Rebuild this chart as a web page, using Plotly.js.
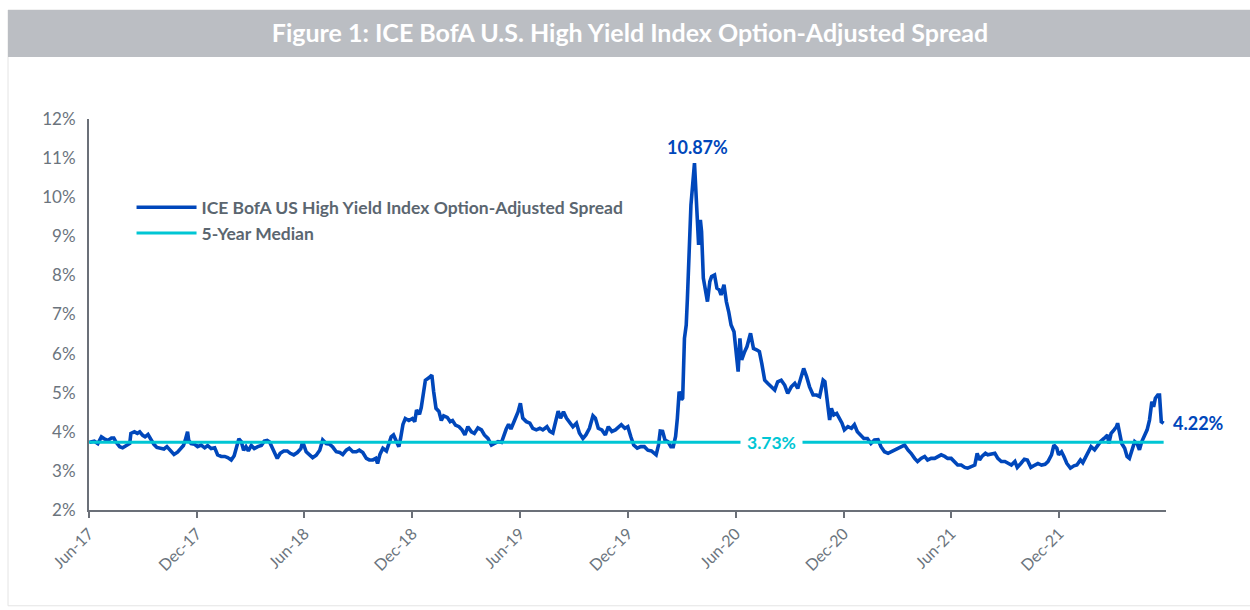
<!DOCTYPE html>
<html>
<head>
<meta charset="utf-8">
<script src="https://cdn.plot.ly/plotly-3.0.1.min.js"></script>
<style>
  html, body { margin: 0; padding: 0; background: #ffffff; }
  #chart { width: 1250px; height: 610px; }
</style>
</head>
<body>
<div id="chart"></div>
<script>
// ---- Data ----
const hyDates = [
  "2017-06-02","2017-06-10","2017-06-16","2017-06-22","2017-06-27","2017-07-03","2017-07-09","2017-07-13","2017-07-17","2017-07-23",
  "2017-07-28","2017-08-03","2017-08-09","2017-08-11","2017-08-17","2017-08-22","2017-08-26","2017-08-31","2017-09-04","2017-09-09",
  "2017-09-13","2017-09-19","2017-09-24","2017-09-30","2017-10-06","2017-10-11","2017-10-17","2017-10-23","2017-10-29","2017-11-03",
  "2017-11-08","2017-11-11","2017-11-15","2017-11-17","2017-11-21","2017-11-27","2017-12-02","2017-12-08","2017-12-14","2017-12-19",
  "2017-12-25","2017-12-31","2018-01-05","2018-01-11","2018-01-17","2018-01-22","2018-01-28","2018-02-02","2018-02-07","2018-02-10",
  "2018-02-14","2018-02-18","2018-02-22","2018-02-26","2018-03-03","2018-03-08","2018-03-14","2018-03-20","2018-03-25","2018-03-30",
  "2018-04-03","2018-04-07","2018-04-11","2018-04-16","2018-04-21","2018-04-27","2018-05-03","2018-05-08","2018-05-14","2018-05-20",
  "2018-05-26","2018-05-29","2018-06-04","2018-06-10","2018-06-15","2018-06-21","2018-06-27","2018-07-02","2018-07-08","2018-07-14",
  "2018-07-19","2018-07-25","2018-07-31","2018-08-05","2018-08-11","2018-08-16","2018-08-22","2018-08-28","2018-09-02","2018-09-08",
  "2018-09-14","2018-09-19","2018-09-25","2018-09-30","2018-10-03","2018-10-07","2018-10-12","2018-10-18","2018-10-22","2018-10-26",
  "2018-10-30","2018-11-04","2018-11-08","2018-11-11","2018-11-15","2018-11-19","2018-11-25","2018-12-01","2018-12-05","2018-12-08",
  "2018-12-13","2018-12-16","2018-12-20","2018-12-23","2018-12-29","2019-01-03","2019-01-06","2019-01-10","2019-01-15","2019-01-19",
  "2019-01-23","2019-01-29","2019-02-03","2019-02-07","2019-02-12","2019-02-18","2019-02-23","2019-02-28","2019-03-05","2019-03-11",
  "2019-03-16","2019-03-22","2019-03-28","2019-04-02","2019-04-08","2019-04-14","2019-04-19","2019-04-25","2019-05-01","2019-05-04",
  "2019-05-09","2019-05-13","2019-05-17","2019-05-23","2019-05-29","2019-06-02","2019-06-06","2019-06-12","2019-06-18","2019-06-23",
  "2019-06-29","2019-07-05","2019-07-10","2019-07-17","2019-07-22","2019-07-27","2019-07-31","2019-08-05","2019-08-09","2019-08-14",
  "2019-08-19","2019-08-24","2019-08-30","2019-09-05","2019-09-10","2019-09-16","2019-09-21","2019-09-27","2019-10-03","2019-10-07",
  "2019-10-12","2019-10-18","2019-10-24","2019-10-29","2019-11-04","2019-11-10","2019-11-15","2019-11-20","2019-11-26","2019-12-01",
  "2019-12-06","2019-12-11","2019-12-17","2019-12-23","2019-12-29","2020-01-04","2020-01-10","2020-01-14","2020-01-18","2020-01-22",
  "2020-01-25","2020-01-29","2020-02-02","2020-02-07","2020-02-12","2020-02-16","2020-02-20","2020-02-23","2020-02-26","2020-03-01",
  "2020-03-03","2020-03-06","2020-03-09","2020-03-11","2020-03-14","2020-03-17","2020-03-23","2020-03-25","2020-03-28","2020-03-30",
  "2020-04-02","2020-04-04","2020-04-07","2020-04-10","2020-04-14","2020-04-18","2020-04-21","2020-04-26","2020-04-30","2020-05-04",
  "2020-05-07","2020-05-12","2020-05-16","2020-05-20","2020-05-24","2020-05-29","2020-06-02","2020-06-05","2020-06-08","2020-06-11",
  "2020-06-16","2020-06-20","2020-06-26","2020-07-01","2020-07-07","2020-07-11","2020-07-15","2020-07-20","2020-07-25","2020-07-31",
  "2020-08-06","2020-08-11","2020-08-17","2020-08-23","2020-08-28","2020-09-03","2020-09-09","2020-09-14","2020-09-20","2020-09-24",
  "2020-09-29","2020-10-04","2020-10-10","2020-10-16","2020-10-21","2020-10-27","2020-10-30","2020-11-02","2020-11-04","2020-11-07",
  "2020-11-10","2020-11-14","2020-11-19","2020-11-24","2020-11-28","2020-12-02","2020-12-08","2020-12-14","2020-12-19","2020-12-24",
  "2020-12-30","2021-01-04","2021-01-10","2021-01-16","2021-01-22","2021-01-28","2021-02-02","2021-02-08","2021-02-14","2021-02-19",
  "2021-02-25","2021-03-03","2021-03-08","2021-03-14","2021-03-20","2021-03-25","2021-03-31","2021-04-05","2021-04-11","2021-04-17",
  "2021-04-22","2021-04-28","2021-05-04","2021-05-09","2021-05-15","2021-05-21","2021-05-26","2021-06-01","2021-06-07","2021-06-12",
  "2021-06-18","2021-06-24","2021-06-29","2021-07-05","2021-07-11","2021-07-15","2021-07-19","2021-07-23","2021-07-29","2021-08-02",
  "2021-08-08","2021-08-14","2021-08-19","2021-08-25","2021-08-31","2021-09-05","2021-09-11","2021-09-17","2021-09-21","2021-09-27",
  "2021-10-03","2021-10-08","2021-10-14","2021-10-21","2021-10-26","2021-11-01","2021-11-07","2021-11-12","2021-11-18","2021-11-22",
  "2021-11-27","2021-11-30","2021-12-05","2021-12-09","2021-12-14","2021-12-20","2021-12-26","2021-12-31","2022-01-06","2022-01-10",
  "2022-01-16","2022-01-20","2022-01-24","2022-01-30","2022-02-04","2022-02-09","2022-02-15","2022-02-21","2022-02-23","2022-02-27",
  "2022-03-04","2022-03-08","2022-03-10","2022-03-13","2022-03-17","2022-03-22","2022-03-26","2022-03-30","2022-04-03","2022-04-08",
  "2022-04-12","2022-04-16","2022-04-20","2022-04-25","2022-04-29","2022-05-03","2022-05-07","2022-05-10","2022-05-13","2022-05-17",
  "2022-05-20","2022-05-23","2022-05-27"
];
const hyOAS = [
  3.73,3.76,3.70,3.87,3.82,3.78,3.84,3.84,3.73,3.62,
  3.59,3.65,3.70,3.96,4.00,3.96,4.00,3.91,3.87,3.93,
  3.82,3.68,3.60,3.59,3.56,3.62,3.51,3.42,3.48,3.56,
  3.65,3.78,4.00,3.78,3.70,3.68,3.62,3.66,3.59,3.65,
  3.57,3.59,3.41,3.37,3.37,3.34,3.28,3.39,3.62,3.82,
  3.75,3.53,3.62,3.51,3.65,3.57,3.62,3.65,3.76,3.78,
  3.74,3.62,3.48,3.32,3.45,3.51,3.51,3.45,3.41,3.47,
  3.57,3.75,3.49,3.42,3.34,3.40,3.53,3.79,3.70,3.68,
  3.61,3.49,3.47,3.42,3.53,3.58,3.49,3.49,3.53,3.47,
  3.32,3.28,3.28,3.32,3.19,3.42,3.58,3.51,3.66,3.87,
  3.92,3.75,3.62,3.83,4.19,4.34,4.29,4.34,4.26,4.56,
  4.45,4.62,5.03,5.32,5.38,5.45,5.03,4.60,4.52,4.29,
  4.41,4.37,4.26,4.29,4.17,4.13,4.05,3.92,4.13,4.00,
  3.96,4.10,4.05,3.92,3.83,3.66,3.70,3.75,3.73,3.87,
  4.07,4.19,4.07,4.29,4.51,4.73,4.35,4.26,4.22,4.09,
  4.05,4.09,4.05,4.13,4.01,3.97,4.22,4.53,4.35,4.51,
  4.35,4.26,4.13,4.22,3.97,3.83,3.92,4.09,4.41,4.35,
  4.09,4.05,3.92,4.13,4.01,4.05,4.13,4.18,4.09,4.13,
  3.88,3.66,3.58,3.62,3.62,3.53,3.51,3.45,3.41,3.66,
  4.02,4.01,3.79,3.75,3.62,3.62,3.88,4.35,5.03,4.82,
  4.86,6.39,6.73,7.41,8.44,9.80,10.87,10.17,8.95,8.78,
  9.42,9.12,7.93,7.67,7.33,7.84,7.97,8.01,7.67,7.63,
  7.50,7.76,7.33,7.07,6.73,6.56,5.88,5.54,6.39,5.84,
  6.05,6.18,6.52,6.13,6.09,6.05,5.75,5.32,5.24,5.15,
  5.07,5.28,5.32,5.19,4.98,5.15,5.24,5.11,5.41,5.62,
  5.41,5.15,4.94,4.94,4.90,5.32,5.28,4.90,4.56,4.30,
  4.60,4.43,4.47,4.35,4.22,4.05,4.13,4.09,4.18,4.00,
  3.92,3.83,3.83,3.70,3.79,3.80,3.62,3.49,3.45,3.49,
  3.53,3.58,3.62,3.66,3.53,3.45,3.32,3.24,3.32,3.37,
  3.28,3.32,3.32,3.37,3.41,3.37,3.32,3.32,3.24,3.15,
  3.15,3.09,3.07,3.11,3.15,3.45,3.28,3.37,3.45,3.41,
  3.43,3.45,3.32,3.24,3.24,3.19,3.15,3.24,3.09,3.19,
  3.30,3.28,3.09,3.15,3.19,3.15,3.17,3.24,3.41,3.66,
  3.58,3.41,3.49,3.37,3.19,3.07,3.13,3.15,3.28,3.21,
  3.37,3.49,3.62,3.54,3.66,3.75,3.83,3.92,3.70,3.96,
  4.05,4.13,4.22,4.00,3.70,3.58,3.37,3.32,3.54,3.75,
  3.70,3.54,3.75,3.92,4.05,4.30,4.77,4.64,4.86,4.94,
  4.94,4.26,4.22
];
const medianValue = 3.73;
const medianDates = ["2017-06-01", "2022-05-27"];
const peakDate = "2020-03-23";
const peakValue = 10.87;
const lastDate = "2022-05-27";
const lastValue = 4.22;
const medianLabelDate = "2020-07-31";

const seriesName = "ICE BofA US High Yield Index Option-Adjusted Spread";
const medianName = "5-Year Median";
const chartTitle = "Figure 1: ICE BofA U.S. High Yield Index Option-Adjusted Spread";

const BLUE = "#0047BB";
const CYAN = "#00C6D4";
const GRAY_TXT = "#6B747D";
const AXIS = "#6B7078";
const FONT = "Lato, 'Open Sans', sans-serif";

const traces = [
  {
    x: hyDates, y: hyOAS, type: "scatter", mode: "lines", name: seriesName,
    line: { color: BLUE, width: 3.6 }
  },
  {
    x: medianDates, y: medianDates.map(() => medianValue), type: "scatter", mode: "lines", name: medianName,
    line: { color: CYAN, width: 3 }
  }
];

const layout = {
  width: 1250, height: 610,
  margin: { l: 89, r: 84, t: 119, b: 100 },
  paper_bgcolor: "#ffffff", plot_bgcolor: "#ffffff",
  font: { family: FONT, color: GRAY_TXT },
  title: {
    text: chartTitle,
    font: { family: FONT, size: 25, color: "#ffffff", weight: "bold" },
    xref: "container", yref: "container",
    x: 0.504, xanchor: "center", y: 0.945, yanchor: "middle"
  },
  showlegend: true,
  legend: {
    x: 0.0395, y: 0.82, xanchor: "left", yanchor: "top",
    bgcolor: "rgba(0,0,0,0)",
    font: { family: FONT, size: 17.5, color: "#5B6670", weight: "bold" },
    itemwidth: 60, tracegroupgap: 0
  },
  xaxis: {
    type: "date",
    range: ["2017-06-01", "2022-05-31"],
    tick0: "2017-06-01", dtick: "M6", tickformat: "%b-%y",
    tickangle: -45,
    ticks: "outside", ticklen: 6, tickwidth: 2, tickcolor: AXIS,
    showline: true, linecolor: AXIS, linewidth: 2,
    showgrid: false, zeroline: false,
    tickfont: { family: FONT, size: 16, color: GRAY_TXT }
  },
  yaxis: {
    range: [2, 12], dtick: 1, ticksuffix: "%",
    ticks: "outside", ticklen: 8, tickcolor: "rgba(0,0,0,0)",
    showline: true, linecolor: AXIS, linewidth: 2,
    showgrid: false, zeroline: false,
    tickfont: { family: FONT, size: 17, color: GRAY_TXT }
  },
  shapes: [
    { type: "rect", xref: "paper", yref: "paper", x0: -0.0752, x1: 1.08, y0: -0.245, y1: 1.2788,
      line: { color: "#E4E4E4", width: 1 }, fillcolor: "rgba(0,0,0,0)", layer: "below" },
    { type: "rect", xref: "paper", yref: "paper", x0: -0.0752, x1: 1.08, y0: 1.1586, y1: 1.2788,
      line: { width: 0 }, fillcolor: "#BBBEC3", layer: "below" }
  ],
  annotations: [
    { x: peakDate, y: peakValue, text: peakValue.toFixed(2) + "%", showarrow: false,
      yanchor: "bottom", yshift: 3, xshift: 3,
      font: { family: FONT, size: 18, color: BLUE, weight: "bold" } },
    { x: lastDate, y: lastValue, text: lastValue.toFixed(2) + "%", showarrow: false,
      xanchor: "left", xshift: 7,
      font: { family: FONT, size: 18, color: BLUE, weight: "bold" } },
    { x: medianLabelDate, y: medianValue, text: medianValue.toFixed(2) + "%", showarrow: false,
      bgcolor: "#ffffff", borderpad: 6,
      font: { family: FONT, size: 17.5, color: CYAN, weight: "bold" } }
  ]
};

Plotly.newPlot("chart", traces, layout, { displayModeBar: false, staticPlot: true });
</script>
</body>
</html>
